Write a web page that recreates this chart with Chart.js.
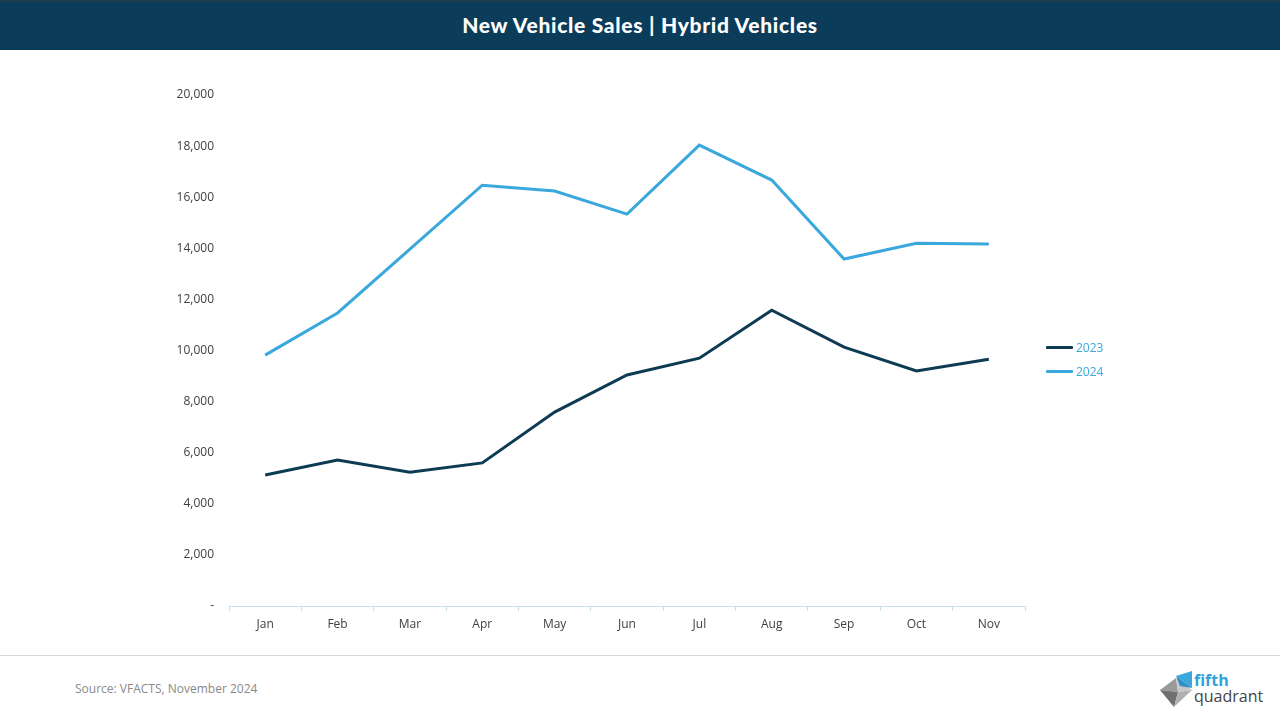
<!DOCTYPE html>
<html>
<head>
<meta charset="utf-8">
<script src="https://cdn.jsdelivr.net/npm/chart.js@4.4.1/dist/chart.umd.min.js"></script>
<style>
  html,body{margin:0;padding:0;width:1280px;height:720px;background:#fff;overflow:hidden;font-family:"Open Sans",sans-serif;}
  #title{position:absolute;left:0;top:0;width:1280px;height:50px;background:#0b3c5a;border-top:2px solid #213a4c;box-sizing:border-box;color:#fff;font-family:"Lato",sans-serif;font-weight:900;font-size:21px;letter-spacing:0.7px;text-align:center;line-height:46px;}
  #wrap{position:absolute;left:0;top:50px;width:1280px;height:600px;}
  #sep{position:absolute;left:0;top:655px;width:1280px;height:1px;background:#d9d9d9;}
  #source{position:absolute;left:75px;top:680px;font-size:12px;color:#8a8a8a;font-family:"Open Sans",sans-serif;}
  #legend{position:absolute;left:1046px;top:335px;font-size:12px;font-family:"Open Sans",sans-serif;color:#3aa8dc;}
  .li{height:24px;display:flex;align-items:center;}
  .sw{width:27px;height:3px;margin-right:3px;border-radius:1px;}
  #logo{position:absolute;left:1158px;top:668px;width:112px;height:42px;}
</style>
</head>
<body>
<div id="title">New Vehicle Sales | Hybrid Vehicles</div>
<div id="wrap"><canvas id="c" width="1280" height="600"></canvas></div>
<div id="legend"></div>
<div id="sep"></div>
<div id="source">Source: VFACTS, November 2024</div>
<svg id="logo" viewBox="0 0 112 42">
  <polygon points="2,22 18,10 20,24" fill="#9a9a9a"/>
  <polygon points="18,10 34,22 20,24" fill="#c8c8c8"/>
  <polygon points="2,22 20,24 16,39" fill="#6f6f6f"/>
  <polygon points="20,24 34,22 16,39" fill="#b0b0b0"/>
  <polygon points="18,8 34,3 34,20" fill="#3aa8dc"/>
  <polygon points="18,8 34,20 22,18" fill="#2e8fc4"/>
  <text x="36" y="18" font-family="Open Sans, sans-serif" font-weight="700" font-size="16" fill="#2ea3dc">fifth</text>
  <text x="36" y="34" font-family="Open Sans, sans-serif" font-size="16" fill="#444">quadrant</text>
</svg>
<script>
const categories = ["Jan","Feb","Mar","Apr","May","Jun","Jul","Aug","Sep","Oct","Nov"];
const sales2023 = [5130, 5710, 5240, 5600, 7590, 9040, 9700, 11580, 10130, 9200, 9660];
const sales2024 = [9820, 11470, 13970, 16470, 16240, 15340, 18040, 16670, 13580, 14200, 14170];
const yTicks = [0, 2000, 4000, 6000, 8000, 10000, 12000, 14000, 16000, 18000, 20000];
const seriesNames = ["2023", "2024"];
const colors = ["#0d3b54", "#3aa8dc"];

const legend = document.getElementById('legend');
seriesNames.forEach((n, i) => {
  const d = document.createElement('div');
  d.className = 'li';
  d.innerHTML = '<div class="sw" style="background:' + colors[i] + '"></div><span>' + n + '</span>';
  legend.appendChild(d);
});

new Chart(document.getElementById('c'), {
  type: 'line',
  data: {
    labels: categories,
    datasets: [
      {label: seriesNames[0], data: sales2023, borderColor: colors[0], backgroundColor: colors[0], borderWidth: 3, pointRadius: 0, tension: 0},
      {label: seriesNames[1], data: sales2024, borderColor: colors[1], backgroundColor: colors[1], borderWidth: 3, pointRadius: 0, tension: 0}
    ]
  },
  options: {
    responsive: false,
    animation: false,
    layout: {padding: {left: 0, right: 255, top: 45, bottom: 0}},
    plugins: {legend: {display: false}, tooltip: {enabled: false}},
    scales: {
      x: {
        offset: true,
        grid: {display: true, drawOnChartArea: false, drawTicks: true, tickLength: 5, offset: true, color: '#c5dfee'},
        border: {display: true, color: '#c5dfee', width: 1},
        ticks: {color: '#404040', font: {family: 'Open Sans', size: 12}, padding: 6, maxRotation: 0},
        afterFit: s => { s.height = 44; }
      },
      y: {
        min: 0, max: 20000,
        afterBuildTicks: s => { s.ticks = yTicks.map(v => ({value: v})); },
        grid: {display: false, drawTicks: false, tickLength: 0},
        border: {display: false},
        ticks: {color: '#404040', font: {family: 'Open Sans', size: 12}, padding: 15,
          callback: v => v === 0 ? '-' : v.toLocaleString('en-US')},
        afterFit: s => { s.width = 229; }
      }
    }
  }
});
</script>
</body>
</html>
